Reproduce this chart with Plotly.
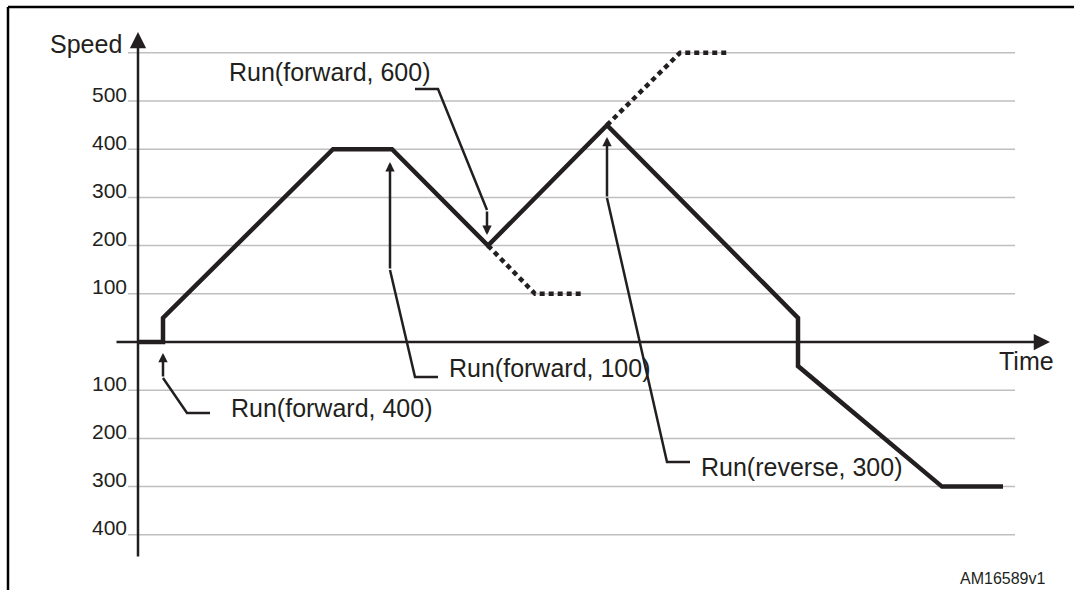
import plotly.graph_objects as go

# ---- data ----
profile_t = [0, 25, 25, 195, 254, 350, 469, 660, 660, 804, 865]
profile_v = [0, 0, 50, 400, 400, 200, 450, 50, -50, -300, -300]

alt1_t = [350, 397, 445]      # dotted: Run(forward, 100) continuation
alt1_v = [200, 100, 100]
alt2_t = [469, 542, 589]      # dotted: Run(forward, 600) continuation
alt2_v = [450, 600, 600]

grid_vals = [600, 500, 400, 300, 200, 100, -100, -200, -300, -400]
tick_vals = [500, 400, 300, 200, 100, -100, -200, -300, -400]
tick_text = ["500", "400", "300", "200", "100", "100", "200", "300", "400"]

callout_labels = ["Run(forward, 400)", "Run(forward, 100)", "Run(forward, 600)", "Run(reverse, 300)"]

INK = "#231f20"
GRID = "#bfbfbf"
FONT = "Liberation Sans, Arial, sans-serif"

fig = go.Figure()

# gridlines
shapes = []
for v in grid_vals:
    shapes.append(dict(type="line", xref="x", yref="y", x0=-10, x1=877, y0=v, y1=v,
                       line=dict(color=GRID, width=1.5), layer="below"))
# frame
shapes.append(dict(type="line", xref="paper", yref="paper", x0=8/1074, x1=1.02,
                   y0=1-7/590, y1=1-7/590, line=dict(color="black", width=2.5)))
shapes.append(dict(type="line", xref="paper", yref="paper", x0=8/1074, x1=8/1074,
                   y0=-0.02, y1=1-7/590, line=dict(color="black", width=2.5)))

# dotted alternatives
fig.add_trace(go.Scatter(x=alt1_t, y=alt1_v, mode="lines",
                         line=dict(color=INK, width=4.5, dash="5px,4px"), hoverinfo="skip"))
fig.add_trace(go.Scatter(x=alt2_t, y=alt2_v, mode="lines",
                         line=dict(color=INK, width=4.5, dash="5px,4px"), hoverinfo="skip"))
# main profile
fig.add_trace(go.Scatter(x=profile_t, y=profile_v, mode="lines",
                         line=dict(color=INK, width=4.5), hoverinfo="skip"))

# callout leader lines (polyline part; final segment drawn with arrow)
leaders = [
    ([(72, -147.3), (49, -147.3), (25, -74.7)], (25, -22.8)),
    ([(300, -72.6), (277, -72.6), (252, 149.4)], (252, 373.4)),
    ([(277, 524.9), (300, 524.9), (349, 273.9)], (349, 222)),
    ([(552, -249), (529, -249), (469, 298.8)], (469, 425.3)),
]
annotations = []
for pts, tip in leaders:
    fig.add_trace(go.Scatter(x=[p[0] for p in pts], y=[p[1] for p in pts], mode="lines",
                             line=dict(color=INK, width=2.5), hoverinfo="skip"))
    annotations.append(dict(x=tip[0], y=tip[1], ax=pts[-1][0], ay=pts[-1][1],
                            xref="x", yref="y", axref="x", ayref="y", text="",
                            showarrow=True, arrowhead=2, arrowsize=0.75, arrowwidth=2.5,
                            arrowcolor=INK, standoff=0))

# axes with arrows
annotations.append(dict(x=0, y=643, ax=0, ay=-448, xref="x", yref="y", axref="x", ayref="y",
                        text="", showarrow=True, arrowhead=2, arrowsize=1.3, arrowwidth=2.5,
                        arrowcolor=INK, standoff=0))
annotations.append(dict(x=912, y=0, ax=-23, ay=0, xref="x", yref="y", axref="x", ayref="y",
                        text="", showarrow=True, arrowhead=2, arrowsize=1.3, arrowwidth=2.5,
                        arrowcolor=INK, standoff=0))

# tick labels
for v, t in zip(tick_vals, tick_text):
    annotations.append(dict(x=-9, y=v + 14.5, xref="x", yref="y", text=t, showarrow=False,
                            xanchor="right", yanchor="middle",
                            font=dict(family=FONT, size=21, color=INK)))

# axis titles
annotations.append(dict(x=-14, y=618, xref="x", yref="y", text="Speed", showarrow=False,
                        xanchor="right", yanchor="middle", font=dict(family=FONT, size=25, color=INK)))
annotations.append(dict(x=859, y=-39.4, xref="x", yref="y", text="Time", showarrow=False,
                        xanchor="left", yanchor="middle", font=dict(family=FONT, size=25, color=INK)))

# callout labels
label_pos = [(91, -137), (309, -54), (89, 560), (561, -259)]
for txt, (lx, ly) in zip(callout_labels, label_pos):
    annotations.append(dict(x=lx, y=ly, xref="x", yref="y", text=txt, showarrow=False,
                            xanchor="left", yanchor="middle",
                            font=dict(family=FONT, size=25, color=INK)))

annotations.append(dict(x=1047/1074, y=1-578/590, xref="paper", yref="paper", text="AM16589v1",
                        showarrow=False, xanchor="right", yanchor="middle",
                        font=dict(family=FONT, size=16, color=INK)))

fig.update_layout(
    width=1074, height=590,
    margin=dict(l=0, r=0, t=0, b=0),
    paper_bgcolor="white", plot_bgcolor="white",
    showlegend=False,
    xaxis=dict(visible=False, range=[-138, 936], fixedrange=True),
    yaxis=dict(visible=False, range=[-514.5, 709.5], fixedrange=True),
    shapes=shapes,
    annotations=annotations,
)

fig.write_html("out.html", config={"displayModeBar": False},
               post_script="document.body.style.margin='0px';document.body.style.overflow='hidden';")
